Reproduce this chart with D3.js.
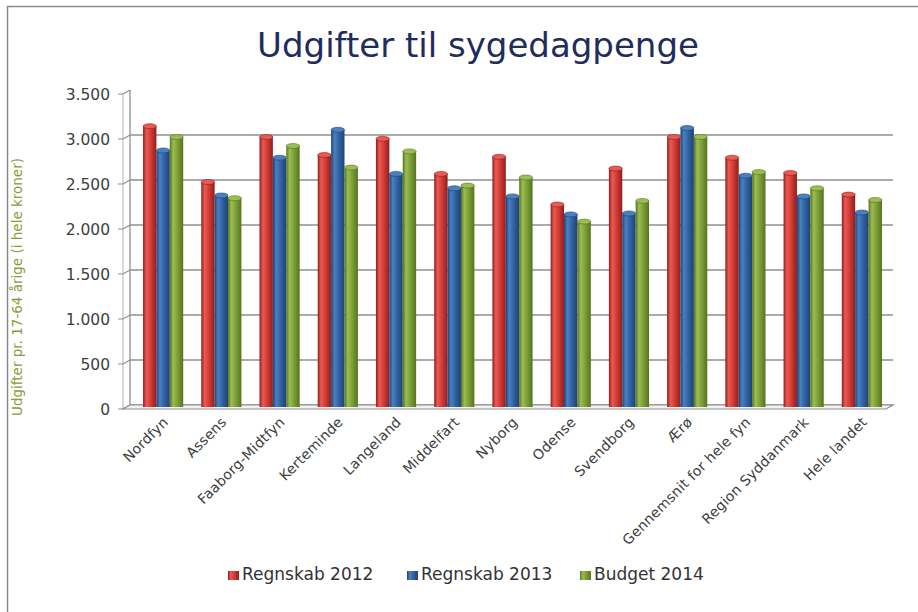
<!DOCTYPE html>
<html>
<head>
<meta charset="utf-8">
<script src="https://cdn.jsdelivr.net/npm/d3@7"></script>
<style>
  body { margin: 0; background: #fff; }
  text { font-family: "DejaVu Sans", sans-serif; }
</style>
</head>
<body>
<svg id="chart" width="918" height="612"></svg>
<script>
const categories = ['Nordfyn', 'Assens', 'Faaborg-Midtfyn', 'Kerteminde', 'Langeland', 'Middelfart',
  'Nyborg', 'Odense', 'Svendborg', 'Ærø', 'Gennemsnit for hele fyn', 'Region Syddanmark', 'Hele landet']
const seriesNames = ['Regnskab 2012', 'Regnskab 2013', 'Budget 2014']
const regnskab2012 = [3120, 2500, 3000, 2800, 2980, 2590, 2780, 2250, 2650, 3000, 2770, 2600, 2360]
const regnskab2013 = [2850, 2350, 2770, 3080, 2590, 2430, 2340, 2140, 2150, 3100, 2570, 2340, 2160]
const budget2014 = [3000, 2320, 2900, 2660, 2840, 2460, 2550, 2060, 2290, 3000, 2610, 2430, 2300]
const yTicks = [0, 500, 1000, 1500, 2000, 2500, 3000, 3500]

const seriesValues = [regnskab2012, regnskab2013, budget2014]
// cylinder shades: dark edge, body, highlight
const shades = [
  {dark: '#8e1f1c', body: '#cf3a34', light: '#ea5a52'},
  {dark: '#1f4274', body: '#2f61a1', light: '#4a7fc2'},
  {dark: '#55741f', body: '#7b9d36', light: '#9bbd52'},
]

const svg = d3.select('#chart')
const defs = svg.append('defs')
shades.forEach((s, i) => {
  const g = defs.append('linearGradient').attr('id', 'cyl' + i)
    .attr('x1', 0).attr('x2', 1).attr('y1', 0).attr('y2', 0)
  g.append('stop').attr('offset', '0%').attr('stop-color', s.dark)
  g.append('stop').attr('offset', '25%').attr('stop-color', s.light)
  g.append('stop').attr('offset', '60%').attr('stop-color', s.body)
  g.append('stop').attr('offset', '100%').attr('stop-color', s.dark)
})

// outer frame (left and top only)
svg.append('path').attr('d', 'M7.5,612 V6.5 H918')
  .attr('fill', 'none').attr('stroke', '#8a8a8a').attr('stroke-width', 1.5)

const floorY = 405
const depthX = 7
const depthY = 4
const wallX = 130
const rightX = 893

const y = d3.scaleLinear().domain([0, 3500]).range([floorY, 90])
const x0 = d3.scaleBand().domain(categories).range([134, 891])
  .paddingInner(0.31).paddingOuter(0.155)
const x1 = d3.scaleBand().domain(d3.range(seriesNames.length)).range([0, x0.bandwidth()])

// back wall gridlines
svg.append('g').selectAll('line')
  .data(yTicks.filter((t) => t < 3500))
  .join('line')
  .attr('x1', wallX).attr('x2', rightX)
  .attr('y1', (d) => y(d)).attr('y2', (d) => y(d))
  .attr('stroke', '#8f8f8f').attr('stroke-width', 1.3)

// wall edge + tick marks
svg.append('line').attr('x1', wallX).attr('x2', wallX)
  .attr('y1', y(3500)).attr('y2', floorY)
  .attr('stroke', '#8f8f8f').attr('stroke-width', 1.3)
svg.append('line').attr('x1', wallX - depthX).attr('x2', wallX - depthX)
  .attr('y1', y(3500) + depthY).attr('y2', floorY + depthY)
  .attr('stroke', '#b5b5b5').attr('stroke-width', 1)
const ticks = svg.append('g').selectAll('g').data(yTicks).join('g')
ticks.append('path')
  .attr('d', (d) => `M${wallX - depthX - 5},${y(d) + depthY} H${wallX - depthX} L${wallX},${y(d)}`)
  .attr('fill', 'none').attr('stroke', '#8f8f8f').attr('stroke-width', 1.2)
ticks.append('text')
  .attr('x', 110).attr('y', (d) => y(d) + 5)
  .attr('text-anchor', 'end').attr('dominant-baseline', 'middle')
  .attr('font-size', 15.5).attr('fill', '#404040')
  .text((d) => d3.format(',')(d).replace(/,/g, '.'))

// floor
svg.append('path')
  .attr('d', `M${wallX},${floorY} H${rightX} L${rightX - depthX},${floorY + depthY} H${wallX - depthX} Z`)
  .attr('fill', '#f2f2f2').attr('stroke', '#8f8f8f').attr('stroke-width', 1.2)

// bars
const groups = svg.append('g').selectAll('g')
  .data(categories)
  .join('g')
  .attr('transform', (d) => `translate(${x0(d)},0)`)

const bars = groups.selectAll('g')
  .data((d, i) => seriesValues.map((vals, s) => ({s, v: vals[i]})))
  .join('g')
const bw = x1.bandwidth()
bars.append('rect')
  .attr('x', (d) => x1(d.s))
  .attr('y', (d) => y(d.v) + 2)
  .attr('width', bw)
  .attr('height', (d) => floorY + 2 - y(d.v) - 2)
  .attr('fill', (d) => `url(#cyl${d.s})`)
bars.append('ellipse')
  .attr('cx', (d) => x1(d.s) + bw / 2)
  .attr('cy', (d) => y(d.v) + 2)
  .attr('rx', bw / 2).attr('ry', 2.5)
  .attr('fill', (d) => shades[d.s].light)
  .attr('stroke', (d) => shades[d.s].dark).attr('stroke-width', 0.6)

// category labels
svg.append('g').selectAll('text')
  .data(categories)
  .join('text')
  .attr('transform', (d) => `translate(${x0(d) + x0.bandwidth() / 2 + 6},${floorY + 18}) rotate(-45)`)
  .attr('text-anchor', 'end')
  .attr('font-size', 14).attr('letter-spacing', 0.2).attr('fill', '#404040')
  .text((d) => d)

// title
svg.append('text')
  .attr('x', 478).attr('y', 57)
  .attr('text-anchor', 'middle')
  .attr('font-size', 34).attr('fill', '#1f2d5c')
  .text('Udgifter til sygedagpenge')

// y axis title
svg.append('text')
  .attr('transform', 'translate(22,287) rotate(-90)')
  .attr('text-anchor', 'middle')
  .attr('font-size', 13.5).attr('fill', '#8c9a3c')
  .text('Udgifter pr. 17-64 årige (i hele kroner)')

// legend
const legendX = [228, 407, 580]
const legend = svg.append('g').selectAll('g')
  .data(seriesNames)
  .join('g')
  .attr('transform', (d, i) => `translate(${legendX[i]},571)`)
legend.append('rect')
  .attr('width', 11).attr('height', 9)
  .attr('fill', (d, i) => `url(#cyl${i})`)
legend.append('text')
  .attr('x', 14).attr('y', 8.5)
  .attr('font-size', 17).attr('fill', '#333')
  .text((d) => d)
</script>
</body>
</html>
